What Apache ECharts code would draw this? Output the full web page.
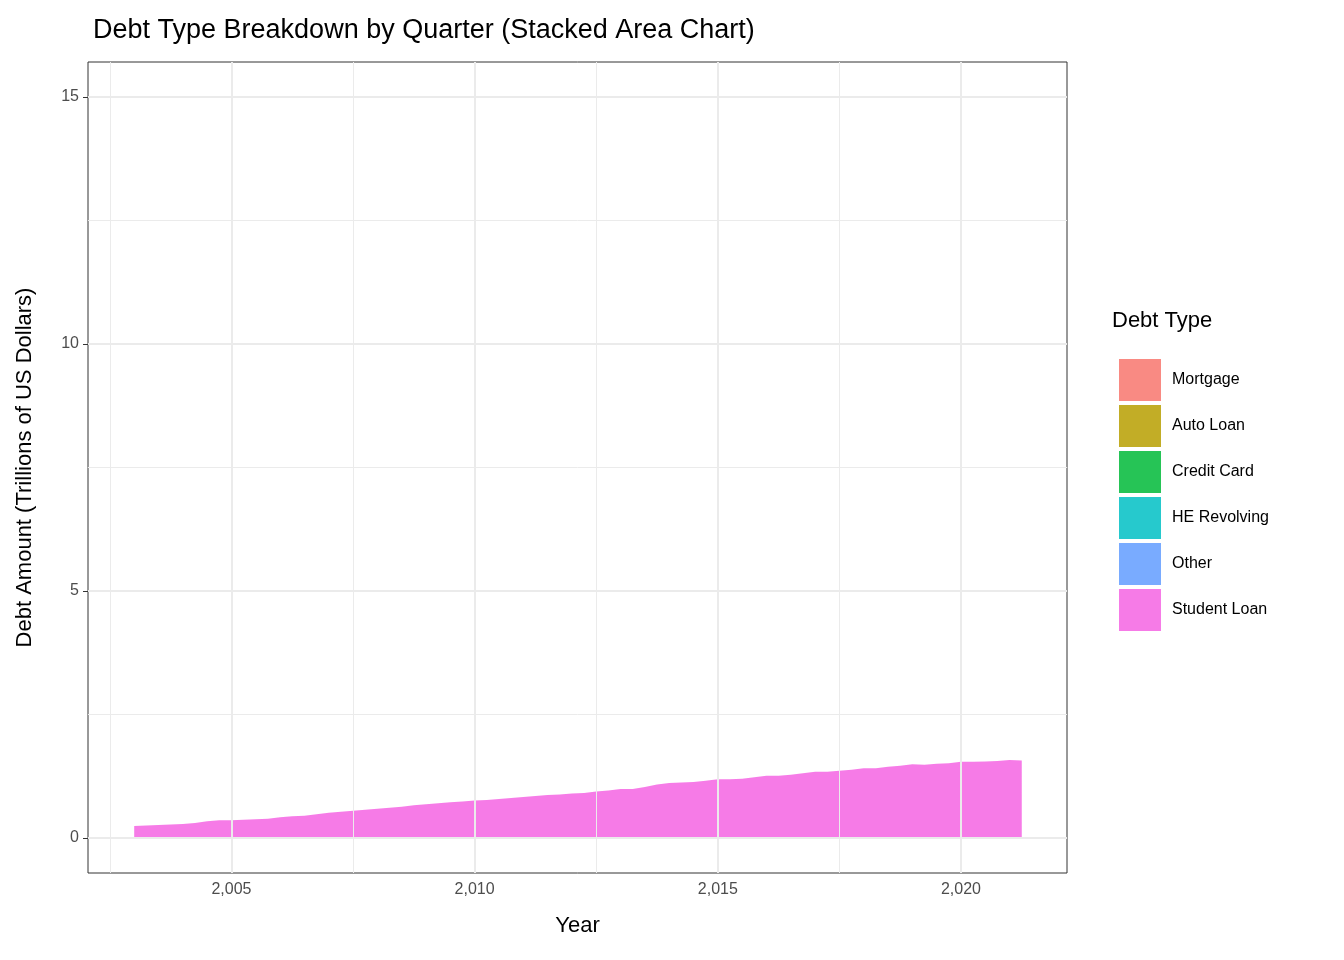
<!DOCTYPE html>
<html>
<head>
<meta charset="utf-8">
<script src="https://cdn.jsdelivr.net/npm/echarts@6/dist/echarts.min.js"></script>
<style>html,body{margin:0;background:#fff}#chart{width:1344px;height:960px}</style>
</head>
<body>
<div id="chart"></div>
<script>
// 季度数据 2003 Q1 - 2021 Q2
const startYear = 2003;
const quarterCount = 74;
const studentLoan = [.24,.25,.26,.27,.28,.30,.34,.36,.36,.37,.38,.39,.42,.44,.45,.48,.51,.53,.55,.57,.59,.61,.63,.66,.68,.70,.72,.74,.76,.77,.79,.81,.83,.85,.87,.88,.90,.91,.94,.96,.99,.99,1.03,1.08,1.11,1.12,1.13,1.16,1.19,1.19,1.20,1.23,1.26,1.26,1.28,1.31,1.34,1.34,1.36,1.38,1.41,1.41,1.44,1.46,1.49,1.48,1.50,1.51,1.54,1.54,1.55,1.56,1.58,1.57];
const other = [.48,.47,.46,.45,.44,.42,.42,.41,.41,.41,.40,.41,.41,.41,.42,.42,.41,.41,.42,.42,.41,.42,.42,.42,.41,.39,.38,.36,.35,.35,.34,.34,.33,.33,.33,.33,.32,.32,.32,.32,.31,.31,.32,.32,.32,.33,.33,.34,.33,.34,.35,.35,.35,.36,.36,.36,.36,.37,.38,.38,.39,.39,.40,.40,.40,.41,.42,.43,.43,.41,.41,.41,.40,.42];
const heRevolving = [.24,.26,.29,.32,.35,.40,.44,.47,.51,.53,.55,.57,.58,.59,.60,.60,.61,.61,.62,.63,.64,.66,.68,.70,.70,.70,.69,.68,.67,.66,.65,.64,.63,.62,.61,.61,.60,.59,.58,.57,.55,.54,.53,.53,.53,.52,.51,.51,.51,.50,.49,.49,.48,.47,.46,.46,.45,.44,.44,.43,.42,.42,.41,.41,.40,.40,.40,.39,.39,.37,.36,.35,.35,.33];
const creditCard = [.69,.69,.70,.70,.70,.70,.71,.72,.71,.72,.73,.74,.73,.74,.75,.77,.76,.78,.79,.80,.82,.83,.85,.87,.84,.81,.80,.79,.76,.74,.73,.73,.70,.70,.69,.70,.68,.67,.68,.68,.67,.67,.67,.69,.66,.67,.68,.70,.69,.70,.71,.73,.71,.73,.75,.78,.76,.78,.80,.83,.82,.83,.84,.87,.85,.87,.88,.93,.89,.82,.81,.82,.77,.79];
const autoLoan = [.64,.66,.68,.70,.70,.71,.72,.72,.73,.74,.75,.80,.79,.80,.81,.82,.80,.80,.81,.81,.80,.81,.81,.79,.78,.76,.74,.72,.71,.70,.71,.71,.71,.72,.72,.73,.74,.75,.76,.78,.79,.80,.81,.84,.87,.88,.90,.93,.96,.97,1.00,1.01,1.04,1.05,1.07,1.11,1.12,1.15,1.17,1.21,1.22,1.23,1.25,1.27,1.27,1.27,1.29,1.32,1.35,1.33,1.35,1.37,1.37,1.40];
const mortgage = [4.94,5.07,5.16,5.64,5.81,5.92,6.22,6.37,6.50,6.73,6.99,7.09,7.52,7.87,8.07,8.21,8.41,8.72,8.96,9.17,9.29,9.27,9.31,9.24,9.14,9.04,8.97,8.89,8.90,8.73,8.63,8.47,8.55,8.48,8.43,8.25,8.16,8.11,8.02,8.04,7.94,7.84,7.94,8.09,8.16,8.13,8.15,8.16,8.17,8.15,8.30,8.29,8.41,8.43,8.43,8.56,8.70,8.76,8.81,8.92,8.95,9.01,9.17,9.13,9.26,9.43,9.46,9.57,9.70,9.80,9.87,10.05,10.17,10.45];
const seriesNames = ['Student Loan', 'Other', 'HE Revolving', 'Credit Card', 'Auto Loan', 'Mortgage'];
const seriesColors = ['#F564E3', '#619CFF', '#00BFC4', '#00BA38', '#B79F00', '#F8766D'];
const xTicks = [2005, 2010, 2015, 2020];
const xMinor = [2002.5, 2007.5, 2012.5, 2017.5];
const yTicks = [0, 5, 10, 15];
const yMinor = [2.5, 7.5, 12.5];

const quarters = [];
for (let i = 0; i < quarterCount; i++) quarters.push(startYear + i / 4);

const chart = echarts.init(document.getElementById('chart'));
const allValues = [studentLoan, other, heRevolving, creditCard, autoLoan, mortgage];

const gridLine = (axis, v, w) => ({ [axis]: v, lineStyle: { color: '#ebebeb', width: w, type: 'solid' } });
const markLines = [].concat(
  xMinor.map(v => gridLine('xAxis', v, 1)),
  yMinor.map(v => gridLine('yAxis', v, 1)),
  xTicks.map(v => gridLine('xAxis', v, 2)),
  yTicks.map(v => gridLine('yAxis', v, 2))
);

const series = seriesNames.map((name, i) => ({
  name: name,
  type: 'line',
  stack: 'debt',
  symbol: 'none',
  lineStyle: { width: 0 },
  itemStyle: { color: seriesColors[i], opacity: 0.85 },
  areaStyle: { color: seriesColors[i], opacity: 0.85 },
  data: quarters.map((q, j) => [q, allValues[i][j]]),
  z: 3
}));
series.push({
  type: 'line', data: [], silent: true, z: 1,
  markLine: { silent: true, symbol: 'none', label: { show: false }, animation: false, data: markLines }
});

const axisText = { color: '#4d4d4d', fontSize: 16, fontFamily: 'Liberation Sans, Arial' };

chart.setOption({
  animation: false,
  title: {
    text: 'Debt Type Breakdown by Quarter (Stacked Area Chart)',
    left: 88, top: 12,
    textStyle: { fontSize: 27, fontWeight: 'normal', color: '#000', fontFamily: 'Liberation Sans, Arial' }
  },
  legend: {
    data: seriesNames.slice().reverse(),
    orient: 'vertical',
    left: 1114, top: 354,
    icon: 'rect',
    itemWidth: 42, itemHeight: 42, itemGap: 4,
    textStyle: { fontSize: 16, color: '#000', fontFamily: 'Liberation Sans, Arial', padding: [0, 0, 0, 6] }
  },
  graphic: [{
    type: 'text', left: 1112, top: 310,
    style: { text: 'Debt Type', fontSize: 22, fill: '#000', fontFamily: 'Liberation Sans, Arial' }
  }],
  grid: { left: 88, right: 277, top: 62, bottom: 87, show: true, borderColor: '#333', borderWidth: 1, backgroundColor: '#fff' },
  xAxis: {
    type: 'value', min: 2002.05, max: 2022.18,
    name: 'Year', nameLocation: 'middle', nameGap: 42,
    nameTextStyle: { fontSize: 22, color: '#000', fontFamily: 'Liberation Sans, Arial' },
    axisLine: { show: false },
    axisTick: { show: true, customValues: xTicks, length: 5, lineStyle: { color: '#333' } },
    axisLabel: Object.assign({ customValues: xTicks, margin: 9 }, axisText),
    splitLine: { show: false }
  },
  yAxis: {
    type: 'value', min: -0.71, max: 15.71,
    name: 'Debt Amount (Trillions of US Dollars)', nameLocation: 'middle', nameGap: 52,
    nameTextStyle: { fontSize: 22, color: '#000', fontFamily: 'Liberation Sans, Arial' },
    axisLine: { show: false },
    axisTick: { show: true, customValues: yTicks, length: 5, lineStyle: { color: '#333' } },
    axisLabel: Object.assign({ customValues: yTicks, margin: 9 }, axisText),
    splitLine: { show: false }
  },
  series: series
});
</script>
</body>
</html>
